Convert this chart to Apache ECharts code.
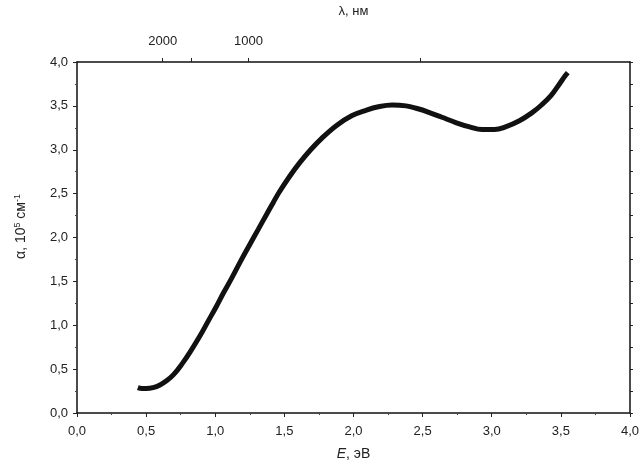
<!DOCTYPE html>
<html><head><meta charset="utf-8">
<script src="https://cdn.jsdelivr.net/npm/echarts@6/dist/echarts.min.js"></script>
<style>html,body{margin:0;padding:0;background:#fff}#c{width:642px;height:469px}</style>
</head><body><div id="c"></div>
<script>
const energy = [0.44,0.47,0.50,0.55,0.60,0.65,0.70,0.76,0.82,0.89,0.95,1.01,1.06,1.12,1.18,1.25,1.31,1.37,1.42,1.46,1.535,1.61,1.69,1.77,1.88,1.99,2.09,2.18,2.28,2.38,2.46,2.54,2.64,2.74,2.84,2.93,3.02,3.10,3.20,3.29,3.36,3.43,3.49,3.53,3.55];
const alpha  = [0.29,0.28,0.28,0.29,0.32,0.37,0.44,0.56,0.70,0.88,1.05,1.22,1.37,1.54,1.72,1.92,2.09,2.26,2.40,2.51,2.69,2.85,3.00,3.13,3.28,3.39,3.45,3.49,3.51,3.50,3.47,3.43,3.37,3.31,3.26,3.23,3.23,3.26,3.33,3.42,3.51,3.62,3.75,3.84,3.88];
const lambdaLabels = [2000, 1000];
const lambdaTicks = [2000, 1500, 1000, 500];

const font = 'Liberation Sans, Arial, sans-serif';
const txt = '#222';
const comma = v => v.toFixed(1).replace('.', ',');
const chart = echarts.init(document.getElementById('c'));
const axisLine = {show:true, onZero:false, lineStyle:{color:'#111', width:1.5}};
chart.setOption({
  animation:false,
  grid:{left:77, right:10, top:58, bottom:56},
  xAxis:[{
    type:'value', min:0, max:4, interval:0.5, position:'bottom',
    axisLine:axisLine,
    axisTick:{show:true, length:4, lineStyle:{color:'#222'}},
    minorTick:{show:true, splitNumber:2, length:2, lineStyle:{color:'#444'}},
    splitLine:{show:false},
    axisLabel:{formatter:comma, fontFamily:font, fontSize:13, color:txt, margin:12},
    name:'{i|E}, эВ', nameLocation:'middle', nameGap:34,
    nameTextStyle:{fontFamily:font, fontSize:14, color:txt, rich:{i:{fontStyle:'italic', fontFamily:font, fontSize:14, color:txt}}}
  },{
    type:'value', min:0, max:4, position:'top',
    axisLine:axisLine,
    axisTick:{show:true, length:4, customValues: lambdaTicks.map(l=>1240/l), lineStyle:{color:'#222'}},
    splitLine:{show:false},
    axisLabel:{show:true, customValues: lambdaLabels.map(l=>1240/l), formatter:v=>String(Math.round(1240/v/100)*100), fontFamily:font, fontSize:13, color:txt, margin:14},
    name:'λ, нм', nameLocation:'middle', nameGap:44,
    nameTextStyle:{fontFamily:font, fontSize:13, color:txt}
  }],
  yAxis:[{
    type:'value', min:0, max:4, interval:0.5, position:'left',
    axisLine:axisLine,
    axisTick:{show:true, length:4, lineStyle:{color:'#222'}},
    minorTick:{show:true, splitNumber:2, length:2, lineStyle:{color:'#444'}},
    splitLine:{show:false},
    axisLabel:{formatter:comma, fontFamily:font, fontSize:13, color:txt, margin:9}
  },{
    type:'value', min:0, max:4, interval:0.25, position:'right',
    axisLine:axisLine,
    axisTick:{show:true, length:3, lineStyle:{color:'#222'}},
    splitLine:{show:false},
    axisLabel:{show:false}
  }],
  graphic:[{
    type:'text', left:13, top:194, rotation:Math.PI/2,
    style:{text:'α, 10{s|5} см{s|-1}', font:'14px '+font, fill:txt,
      rich:{s:{fontSize:9, verticalAlign:'top', padding:[0,0,7,0], fill:txt}}}
  }],
  series:[{
    type:'line', xAxisIndex:0, yAxisIndex:0, smooth:0.4, showSymbol:false,
    data: energy.map((e,i)=>[e, alpha[i]]),
    lineStyle:{color:'#111', width:5}
  }]
});
</script></body></html>
